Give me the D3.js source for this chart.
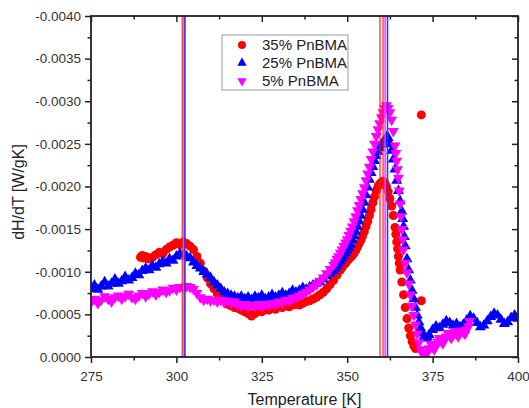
<!DOCTYPE html>
<html>
<head>
<meta charset="utf-8">
<script src="https://cdn.jsdelivr.net/npm/d3@7"></script>
<style>
body { margin: 0; background: #fff; }
text { font-family: "Liberation Sans", Arial, sans-serif; }
</style>
</head>
<body>
<div id="chart"></div>
<script>

// Temperature [K], dH/dT [W/gK]
var data35 = [[289.5,-0.00117],[290,-0.00119],[290.5,-0.00116],[291,-0.00118],[292,-0.00115],[293,-0.00117],[294,-0.00120],[295,-0.00123],[296,-0.00121],[297,-0.00126],[298,-0.00129],[299,-0.00131],[300,-0.00134],[301,-0.00132],[302,-0.00135],[303,-0.00133],[304,-0.00130],[305,-0.00126],[306,-0.00118],[307,-0.00110],[308,-0.00101],[309,-0.00093],[310,-0.00086],[311,-0.00080],[312,-0.00074],[313,-0.00069],[314,-0.00065],[315,-0.00062],[316,-0.00060],[317,-0.00058],[318,-0.00057],[319,-0.00055],[320,-0.00053],[321,-0.00051],[322,-0.00048],[323,-0.00051],[324,-0.00055],[325,-0.00053],[326,-0.00056],[327,-0.00055],[328,-0.00058],[329,-0.00056],[330,-0.00059],[331,-0.00058],[332,-0.00060],[333,-0.00059],[334,-0.00061],[335,-0.00062],[336,-0.00061],[337,-0.00063],[338,-0.00065],[339,-0.00066],[340,-0.00068],[341,-0.00070],[342,-0.00073],[343,-0.00076],[344,-0.00080],[345,-0.00085],[346,-0.00090],[347,-0.00096],[348,-0.00102],[348.5,-0.00105],[349,-0.00108],[349.5,-0.00110],[350,-0.00113],[350.5,-0.00115],[351,-0.00117],[351.5,-0.00119],[352,-0.00122],[352.5,-0.00125],[353,-0.00129],[353.5,-0.00133],[354,-0.00137],[354.5,-0.00142],[355,-0.00147],[355.5,-0.00153],[356,-0.00159],[356.5,-0.00166],[357,-0.00173],[357.5,-0.00181],[358,-0.00188],[358.5,-0.00195],[359,-0.00200],[359.5,-0.00203],[360,-0.00205],[360.5,-0.00206],[361,-0.00204],[361.5,-0.00200],[362,-0.00194],[362.5,-0.00186],[363,-0.00177],[363.5,-0.00166],[364,-0.00152],[364.25,-0.00144],[364.5,-0.00135],[364.75,-0.00127],[365,-0.00118],[365.25,-0.00110],[365.5,-0.00102],[366,-0.00088],[366.5,-0.00073],[367,-0.00058],[367.5,-0.00045],[368,-0.00034],[368.5,-0.00025],[369,-0.00018],[369.5,-0.00013],[370,-0.00010],[371.7,-0.00066],[371.7,-0.00284]];

var data25 = [[275,-0.00080],[276,-0.00084],[277,-0.00079],[278,-0.00083],[279,-0.00088],[280,-0.00083],[281,-0.00086],[282,-0.00091],[283,-0.00086],[284,-0.00089],[285,-0.00094],[286,-0.00090],[287,-0.00093],[288,-0.00098],[289,-0.00096],[290,-0.00101],[291,-0.00104],[292,-0.00102],[293,-0.00107],[294,-0.00105],[295,-0.00109],[296,-0.00112],[297,-0.00110],[298,-0.00115],[299,-0.00113],[300,-0.00118],[301,-0.00121],[302,-0.00120],[303,-0.00118],[304,-0.00116],[305,-0.00111],[306,-0.00107],[307,-0.00104],[308,-0.00100],[309,-0.00097],[310,-0.00093],[311,-0.00088],[312,-0.00084],[313,-0.00080],[314,-0.00076],[315,-0.00074],[316,-0.00072],[317,-0.00071],[318,-0.00069],[319,-0.00071],[320,-0.00068],[321,-0.00070],[322,-0.00067],[323,-0.00071],[324,-0.00069],[325,-0.00072],[326,-0.00068],[327,-0.00070],[328,-0.00073],[329,-0.00070],[330,-0.00072],[331,-0.00075],[332,-0.00072],[333,-0.00074],[334,-0.00078],[335,-0.00076],[336,-0.00078],[337,-0.00081],[338,-0.00079],[339,-0.00082],[340,-0.00084],[341,-0.00086],[342,-0.00088],[343,-0.00091],[344,-0.00095],[345,-0.00098],[346,-0.00101],[346.5,-0.00104],[347,-0.00107],[347.5,-0.00110],[348,-0.00113],[348.5,-0.00116],[349,-0.00119],[349.5,-0.00122],[350,-0.00125],[350.5,-0.00128],[351,-0.00132],[351.5,-0.00137],[352,-0.00142],[352.5,-0.00147],[353,-0.00153],[353.5,-0.00159],[354,-0.00166],[354.5,-0.00173],[355,-0.00181],[355.5,-0.00190],[356,-0.00199],[356.5,-0.00208],[357,-0.00216],[357.5,-0.00223],[358,-0.00230],[358.5,-0.00236],[359,-0.00241],[359.5,-0.00245],[360,-0.00249],[360.5,-0.00252],[361,-0.00255],[361.5,-0.00258],[362,-0.00257],[362.5,-0.00250],[363,-0.00242],[363.5,-0.00232],[364,-0.00220],[364.5,-0.00207],[365,-0.00195],[365.5,-0.00183],[366,-0.00171],[366.25,-0.00162],[366.5,-0.00153],[366.75,-0.00141],[367,-0.00130],[367.5,-0.00115],[368,-0.00102],[368.5,-0.00090],[369,-0.00078],[369.5,-0.00068],[370,-0.00058],[370.5,-0.00049],[371,-0.00041],[371.5,-0.00034],[372,-0.00028],[372.5,-0.00024],[373,-0.00022],[373.5,-0.00023],[374,-0.00026],[375,-0.00032],[376,-0.00036],[377,-0.00034],[378,-0.00038],[379,-0.00042],[380,-0.00040],[381,-0.00037],[382,-0.00039],[383,-0.00035],[384,-0.00038],[385,-0.00043],[386,-0.00048],[387,-0.00045],[388,-0.00040],[389,-0.00035],[390,-0.00037],[391,-0.00042],[392,-0.00047],[393,-0.00051],[394,-0.00049],[395,-0.00044],[396,-0.00039],[397,-0.00041],[398,-0.00046],[399,-0.00049],[400,-0.00045]];

var data5 = [[275,-0.00064],[276,-0.00068],[277,-0.00063],[278,-0.00067],[279,-0.00071],[280,-0.00068],[281,-0.00065],[282,-0.00070],[283,-0.00072],[284,-0.00068],[285,-0.00071],[286,-0.00074],[287,-0.00070],[288,-0.00068],[289,-0.00072],[290,-0.00075],[291,-0.00071],[292,-0.00074],[293,-0.00077],[294,-0.00073],[295,-0.00076],[296,-0.00079],[297,-0.00076],[298,-0.00078],[299,-0.00081],[300,-0.00079],[301,-0.00082],[302,-0.00081],[303,-0.00083],[304,-0.00082],[305,-0.00080],[306,-0.00075],[307,-0.00070],[308,-0.00067],[309,-0.00068],[310,-0.00066],[311,-0.00067],[312,-0.00065],[313,-0.00067],[314,-0.00064],[315,-0.00066],[316,-0.00063],[317,-0.00065],[318,-0.00062],[319,-0.00060],[320,-0.00062],[321,-0.00059],[322,-0.00061],[323,-0.00060],[324,-0.00062],[325,-0.00059],[326,-0.00062],[327,-0.00061],[328,-0.00063],[329,-0.00062],[330,-0.00065],[331,-0.00064],[332,-0.00067],[333,-0.00066],[334,-0.00069],[335,-0.00070],[336,-0.00072],[337,-0.00074],[338,-0.00076],[339,-0.00079],[340,-0.00082],[341,-0.00085],[342,-0.00089],[343,-0.00093],[344,-0.00098],[345,-0.00103],[346,-0.00108],[346.5,-0.00111],[347,-0.00115],[347.5,-0.00118],[348,-0.00122],[348.5,-0.00126],[349,-0.00130],[349.5,-0.00134],[350,-0.00138],[350.5,-0.00143],[351,-0.00148],[351.5,-0.00153],[352,-0.00159],[352.5,-0.00165],[353,-0.00172],[353.5,-0.00178],[354,-0.00185],[354.5,-0.00192],[355,-0.00199],[355.5,-0.00207],[356,-0.00215],[356.5,-0.00223],[357,-0.00232],[357.5,-0.00241],[358,-0.00250],[358.5,-0.00259],[359,-0.00267],[359.5,-0.00274],[360,-0.00281],[360.5,-0.00287],[361,-0.00292],[361.5,-0.00295],[362,-0.00292],[362.5,-0.00287],[363,-0.00278],[363.5,-0.00265],[364,-0.00248],[364.25,-0.00239],[364.5,-0.00230],[364.75,-0.00220],[365,-0.00210],[365.25,-0.00195],[365.5,-0.00180],[365.75,-0.00165],[366,-0.00150],[366.25,-0.00138],[366.5,-0.00126],[367,-0.00110],[367.5,-0.00099],[368,-0.00086],[368.5,-0.00073],[369,-0.00060],[369.5,-0.00049],[370,-0.00038],[370.5,-0.00027],[371,-0.00017],[371.5,-0.00009],[372,-0.00004],[372.5,-0.00003],[373,-0.00006],[373.5,-0.00005],[374,-0.00010],[374.5,-0.00015],[375,-0.00012],[375.5,-0.00009],[376,-0.00013],[376.5,-0.00018],[377,-0.00022],[377.5,-0.00019],[378,-0.00016],[378.5,-0.00020],[379,-0.00024],[379.5,-0.00028],[380,-0.00025],[380.5,-0.00022],[381,-0.00026],[381.5,-0.00030],[382,-0.00027],[382.5,-0.00024],[383,-0.00028],[383.5,-0.00031],[384,-0.00029],[384.5,-0.00027],[385,-0.00032],[385.5,-0.00036],[385.8,-0.00042]];

// peak temperatures marked with vertical lines
var peaks35 = [301.7, 359.6, 360.5];
var peaks25 = [302.5, 361.8];
var peaks5 = [302.2, 361.1];

var seriesNames = ["35% PnBMA", "25% PnBMA", "5% PnBMA"];
var xTicks = [275, 300, 325, 350, 375, 400];
var yTicks = [0, -0.0005, -0.001, -0.0015, -0.002, -0.0025, -0.003, -0.0035, -0.004];

var margin = { top: 16, right: 11, bottom: 51, left: 91 };
var width = 529 - margin.left - margin.right;
var height = 408 - margin.top - margin.bottom;

var svg = d3.select("#chart").append("svg")
    .attr("width", 529)
    .attr("height", 408)
  .append("g")
    .attr("transform", "translate(" + margin.left + "," + margin.top + ")");

var x = d3.scaleLinear().domain([275, 400]).range([0, width]);
var y = d3.scaleLinear().domain([0, -0.004]).range([height, 0]);

var xMinor = d3.range(287.5, 400, 25);
var yMinor = d3.range(1, 16, 2).map(function(i){ return -0.00025 * i; });

svg.append("clipPath").attr("id", "plotClip")
  .append("rect").attr("width", width).attr("height", height);

var plot = svg.append("g").attr("clip-path", "url(#plotClip)");

var series = [
  { data: data35, color: "#ff0000", shape: "circle" },
  { data: data25, color: "#0000ff", shape: "up" },
  { data: data5, color: "#ff00ff", shape: "down" }
];

function symbolPath(shape, big) {
  if (shape == "circle") return d3.symbol().type(d3.symbolCircle).size(big ? 64 : 50)();
  return d3.symbol().type(d3.symbolTriangle).size(big ? 52 : 38)();
}

series.forEach(function(s){
  plot.append("g").selectAll("path")
    .data(s.data)
    .enter()
    .append("path")
    .attr("d", symbolPath(s.shape, true))
    .attr("transform", function(d){
      return "translate(" + x(d[0]) + "," + y(d[1]) + ")" + (s.shape == "down" ? " rotate(180)" : "");
    })
    .style("fill", s.color);
});

// vertical peak lines
var peakLines = [
  { t: peaks35, color: "#ff2020", w: 1.2 },
  { t: peaks5, color: "#ff40ff", w: 1.6 },
  { t: peaks25, color: "#3030ff", w: 1.6 }
];
peakLines.forEach(function(p){
  plot.selectAll(null)
    .data(p.t)
    .enter()
    .append("line")
    .attr("x1", function(d){ return x(d); })
    .attr("x2", function(d){ return x(d); })
    .attr("y1", 0)
    .attr("y2", height)
    .style("stroke", p.color)
    .style("stroke-width", p.w);
});

// axes
var fmtY = function(d){ return d.toFixed(4); };

function styleAxis(g) {
  g.select(".domain").remove();
  g.selectAll("line").style("stroke", "#222").style("stroke-width", 1.5);
  g.selectAll("text").style("fill", "#333").style("font-size", "13.5px");
}

svg.append("g")
  .attr("transform", "translate(0," + height + ")")
  .call(d3.axisBottom(x).tickValues(xTicks).tickSize(6).tickPadding(8).tickFormat(d3.format("d")))
  .call(styleAxis);
svg.append("g")
  .attr("transform", "translate(0," + height + ")")
  .call(d3.axisBottom(x).tickValues(xMinor).tickSize(3.5).tickFormat(""))
  .call(styleAxis);
svg.append("g")
  .call(d3.axisLeft(y).tickValues(yTicks).tickSize(6).tickPadding(4).tickFormat(fmtY))
  .call(styleAxis);
svg.append("g")
  .call(d3.axisLeft(y).tickValues(yMinor).tickSize(3.5).tickFormat(""))
  .call(styleAxis);

// mirrored axes, inward ticks
svg.append("g")
  .call(d3.axisTop(x).tickValues(xTicks).tickSize(-6).tickFormat(""))
  .call(styleAxis);
svg.append("g")
  .call(d3.axisTop(x).tickValues(xMinor).tickSize(-3.5).tickFormat(""))
  .call(styleAxis);
svg.append("g")
  .attr("transform", "translate(" + width + ",0)")
  .call(d3.axisRight(y).tickValues(yTicks).tickSize(-6).tickFormat(""))
  .call(styleAxis);
svg.append("g")
  .attr("transform", "translate(" + width + ",0)")
  .call(d3.axisRight(y).tickValues(yMinor).tickSize(-3.5).tickFormat(""))
  .call(styleAxis);

svg.append("rect")
  .attr("width", width)
  .attr("height", height)
  .style("fill", "none")
  .style("stroke", "#222")
  .style("stroke-width", 1.8);

svg.append("text")
  .attr("x", width / 2)
  .attr("y", height + 48)
  .style("text-anchor", "middle")
  .style("font-size", "16px")
  .style("fill", "#222")
  .text("Temperature [K]");

svg.append("text")
  .attr("transform", "rotate(-90)")
  .attr("x", -176)
  .attr("y", -67)
  .style("text-anchor", "middle")
  .style("font-size", "16px")
  .style("fill", "#222")
  .text("dH/dT [W/gK]");

// legend
var legend = svg.append("g")
  .attr("transform", "translate(" + (222 - margin.left) + "," + (35 - margin.top) + ")");
legend.append("rect")
  .attr("width", 126)
  .attr("height", 55)
  .style("fill", "#fff")
  .style("stroke", "#999")
  .style("stroke-width", 1);

var legendRows = legend.selectAll(".legendRow")
  .data(series)
  .enter()
  .append("g")
  .attr("class", "legendRow")
  .attr("transform", function(d, i){ return "translate(0," + (10 + i * 18) + ")"; });
legendRows.append("path")
  .attr("d", function(d){ return symbolPath(d.shape, false); })
  .attr("transform", function(d){ return "translate(20,0)" + (d.shape == "down" ? " rotate(180)" : ""); })
  .style("fill", function(d){ return d.color; });
legendRows.append("text")
  .attr("x", 40)
  .attr("dy", "0.35em")
  .style("font-size", "15px")
  .style("fill", "#222")
  .text(function(d, i){ return seriesNames[i]; });

</script>
</body>
</html>
